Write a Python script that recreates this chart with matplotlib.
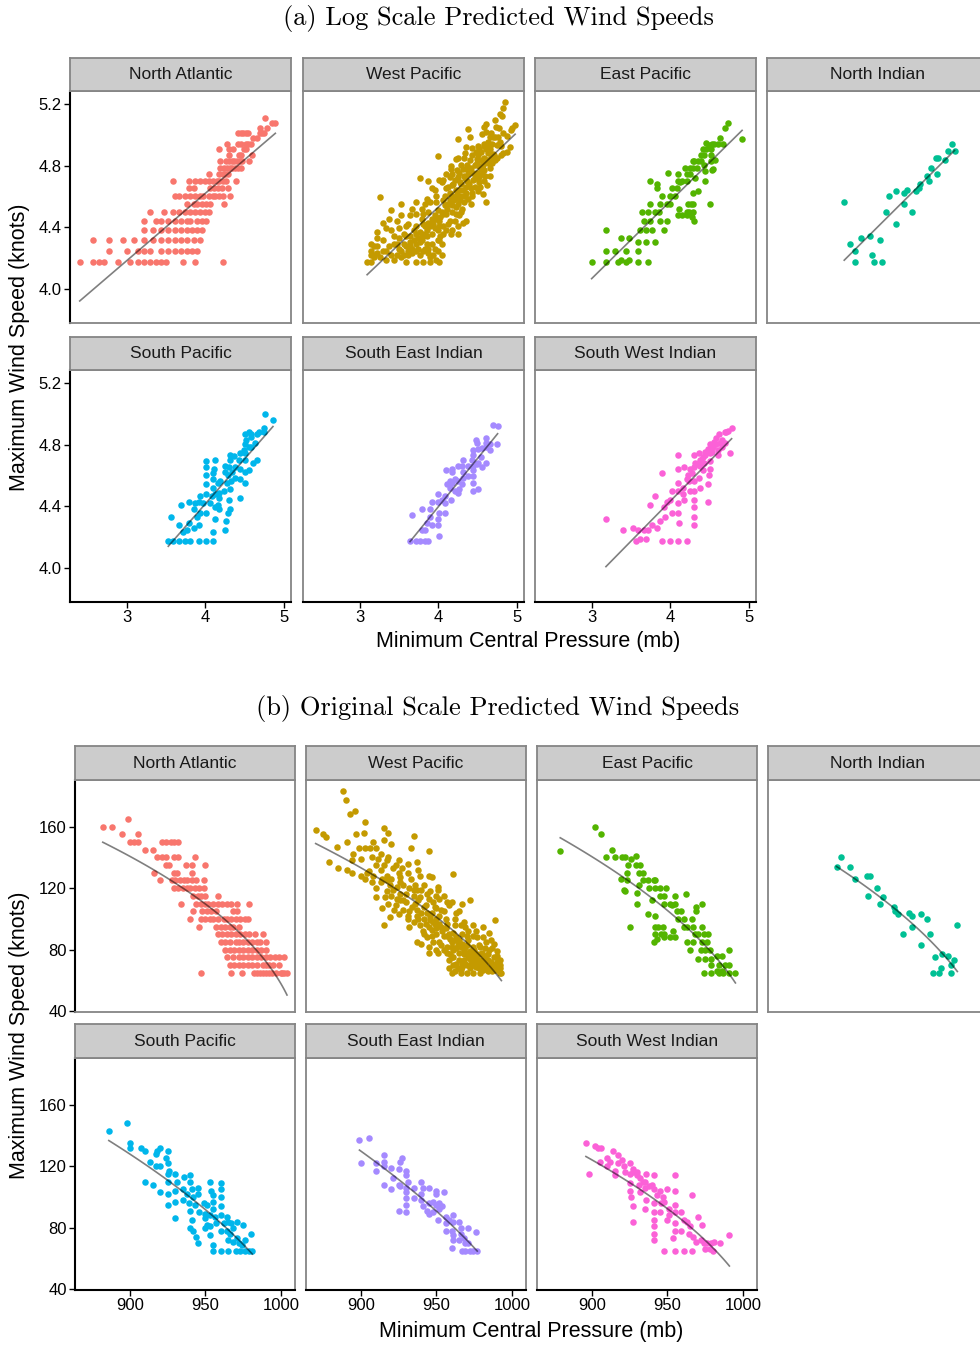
import numpy as np
import matplotlib
matplotlib.use("Agg")
import matplotlib.pyplot as plt

# reference pressure used for the log pressure deficit
REF = 1015

basins = ["North Atlantic", "West Pacific", "East Pacific", "North Indian",
          "South Pacific", "South East Indian", "South West Indian"]
colours = ["#F8766D", "#C49A00", "#53B400", "#00C094", "#00B6EB", "#A58AFF", "#FB61D7"]

# North Atlantic: winds are reported in 5 kt steps, pressures listed per wind level
na_levels = [165, 160, 155, 150, 145, 140, 135, 130, 125, 120, 115, 110, 105,
             100, 95, 90, 85, 80, 75, 70, 65]
na_pres_rows = [
    [899],
    [882, 888],
    [895, 905],
    [900, 903, 905, 921, 924, 927, 929, 932],
    [910, 915],
    [918, 921, 924, 929, 932, 943],
    [924, 926, 937, 941, 950],
    [916, 929, 931, 941],
    [920, 928, 930, 933, 936, 938, 941, 944, 949],
    [929, 932, 935, 938, 940, 943, 946, 949],
    [942, 945, 947, 950, 958],
    [934, 944, 947, 950, 952, 955, 958, 961, 964, 967, 971, 979],
    [942, 948, 951, 954, 957, 968, 971],
    [940, 947, 950, 953, 955, 958, 962, 964, 967, 970, 973, 976, 978],
    [946, 957, 960, 963, 966, 968, 972],
    [958, 961, 964, 967, 970, 973, 976, 979, 983, 988],
    [960, 963, 966, 970, 972, 975, 978, 981, 984, 986, 990],
    [963, 966, 969, 972, 975, 978, 981, 984, 987, 990],
    [964, 968, 972, 975, 978, 981, 984, 987, 990, 993, 996, 999, 1002],
    [966, 969, 972, 975, 978, 981, 984, 988, 990, 992, 995, 999],
    [947, 967, 974, 982, 984, 986, 988, 990, 992, 994, 997, 1000, 1001, 1002, 1004],
]
na_obs = [(p, w) for w, row in zip(na_levels, na_pres_rows) for p in row]

# (pressure mb, wind kt)
wp_obs = [(888, 183), (890, 177), (893, 168), (896, 170), (903, 163), (870, 158), (875, 155),
          (877, 153), (897, 155), (902, 156), (915, 159), (918, 156), (935, 154), (891, 150),
          (915, 151), (920, 149), (884, 147), (945, 144), (933, 146), (879, 137), (885, 133),
          (891, 132), (894, 130), (961, 129), (915, 96), (919, 101), (932, 95), (937, 85),
          (945, 78), (960, 65), (972, 112), (967, 110), (989, 99), (985, 91), (981, 95),
          (992, 73), (992, 65), (990, 79), (974, 96), (968, 98), (965, 105), (960, 111),
          (955, 115), (951, 121), (951, 119), (947, 127), (945, 128), (939, 128), (938, 132),
          (937, 137), (931, 136), (925, 138), (923, 135), (927, 133), (931, 130), (933, 126),
          (926, 127), (920, 126), (915, 135), (913, 132), (917, 138), (911, 139), (907, 140),
          (903, 146), (899, 146), (906, 146), (910, 146), (895, 142), (894, 138), (900, 139),
          (905, 131), (910, 135), (900, 128), (903, 126), (907, 124), (910, 120), (910, 114),
          (916, 114), (914, 107), (918, 110), (914, 126), (917, 125), (921, 119), (924, 121),
          (924, 113), (925, 103), (928, 106), (930, 116), (935, 119), (936, 110), (931, 100),
          (937, 102), (939, 114), (943, 109), (942, 100), (947, 104), (948, 111), (950, 107),
          (952, 102), (955, 105), (956, 100), (939, 96), (945, 95), (949, 97), (953, 95),
          (957, 89), (950, 90), (947, 89), (942, 90), (940, 84), (945, 82), (952, 85),
          (957, 82), (961, 80), (965, 84), (969, 82), (971, 86), (974, 82), (967, 90),
          (971, 92), (977, 88), (979, 82), (980, 78), (984, 77), (987, 81), (988, 75),
          (990, 72), (987, 70), (983, 68), (979, 65), (974, 65), (970, 65), (966, 67),
          (963, 71), (968, 73), (972, 74), (977, 72), (981, 70), (961, 75), (965, 78),
          (959, 77), (955, 80), (963, 81), (951, 78), (970, 77), (974, 78), (977, 77),
          (958, 73), (961, 70), (967, 69), (972, 68), (976, 69), (980, 73), (984, 73),
          (982, 76), (904, 130), (908, 128), (913, 124), (919, 122), (917, 118), (926, 116),
          (923, 109), (932, 105), (937, 106), (940, 104), (935, 98), (946, 99), (950, 94),
          (955, 89), (960, 85), (965, 73), (969, 71), (973, 71), (974, 70), (978, 68),
          (960, 82), (948, 85), (944, 88), (941, 92), (931, 102), (928, 112), (920, 115),
          (917, 128), (926, 124), (937, 119), (944, 116), (942, 122), (952, 113), (958, 109),
          (962, 100), (966, 96), (970, 89), (974, 89), (971, 78), (968, 77), (979, 77),
          (982, 81), (966, 65), (991, 67),
          (935, 115), (938, 112), (942, 108), (944, 104), (946, 101), (948, 98), (950, 100),
          (952, 97), (954, 92), (956, 94), (958, 90), (959, 87), (961, 91), (962, 86),
          (963, 88), (964, 83), (965, 86), (966, 82), (967, 84), (968, 80), (969, 78),
          (970, 83), (971, 75), (972, 79), (973, 76), (974, 73), (975, 75), (976, 71),
          (977, 74), (978, 70), (979, 72), (980, 68), (981, 67), (982, 71), (983, 73),
          (984, 66), (985, 68), (986, 72), (987, 66), (988, 70), (989, 67), (990, 69),
          (991, 68), (975, 80), (978, 83), (983, 85), (986, 86), (962, 96), (957, 97),
          (953, 106), (949, 108), (945, 113), (940, 119), (936, 122), (932, 120), (928, 122),
          (925, 130), (921, 133), (918, 140), (913, 142), (908, 150), (946, 118), (950, 115),
          (957, 111), (963, 104), (969, 95), (976, 92), (981, 88), (960, 75), (957, 78),
          (953, 83), (950, 80), (947, 93), (943, 97), (938, 100), (934, 108), (930, 111),
          (926, 112), (922, 106), (970, 70), (967, 71), (964, 68), (962, 66), (958, 68),
          (985, 80), (988, 84), (992, 70), (991, 72), (990, 76), (993, 65), (992, 68)]

ep_obs = [(879, 144), (902, 160), (906, 155), (913, 145), (909, 140), (915, 140), (920, 140),
          (922, 140), (926, 139), (929, 141), (924, 135), (929, 135), (932, 135), (923, 130),
          (931, 130), (934, 130), (919, 126), (923, 125), (934, 125), (937, 125), (941, 125),
          (942, 125), (921, 119), (922, 118), (930, 117), (931, 122), (938, 120), (942, 120),
          (945, 120), (949, 120), (940, 112), (945, 115), (948, 115), (955, 115), (962, 116),
          (930, 110), (948, 110), (952, 110), (955, 110), (953, 109), (956, 105), (959, 105),
          (957, 100), (961, 100), (966, 100), (969, 108), (969, 105), (973, 110), (937, 103),
          (942, 102), (925, 95), (942, 95), (944, 95), (947, 95), (954, 92), (961, 95),
          (963, 95), (967, 95), (973, 95), (942, 90), (946, 90), (948, 90), (943, 87),
          (948, 88), (955, 88), (952, 88), (941, 85), (968, 90), (970, 90), (974, 90),
          (977, 90), (963, 85), (967, 85), (973, 85), (976, 85), (965, 80), (972, 80),
          (975, 80), (978, 80), (970, 74), (975, 74), (979, 74), (983, 76), (986, 76),
          (991, 80), (979, 70), (984, 70), (988, 70), (991, 70), (974, 65), (979, 65),
          (984, 65), (987, 65), (991, 65), (995, 65), (983, 66), (986, 66)]

ni_obs = [(912, 140), (909, 134), (918, 134), (921, 126), (929, 128), (931, 128), (936, 120),
          (930, 115), (940, 114), (938, 110), (947, 108), (948, 105), (950, 103), (957, 104),
          (959, 102), (965, 103), (969, 100), (959, 95), (953, 90), (971, 90), (965, 83),
          (989, 96), (974, 75), (979, 77), (983, 76), (987, 73), (985, 70), (973, 65),
          (977, 65), (978, 68), (985, 65)]

sp_obs = [(886, 143), (898, 148), (900, 135), (900, 132), (907, 132), (910, 130), (917, 128),
          (918, 130), (920, 132), (925, 130), (913, 123), (917, 120), (920, 120), (924, 125),
          (925, 122), (926, 117), (910, 110), (915, 108), (920, 103), (925, 115), (925, 110),
          (930, 115), (931, 110), (930, 104), (925, 102), (925, 95), (930, 97), (930, 86),
          (936, 113), (940, 114), (935, 105), (938, 102), (935, 98), (940, 110), (941, 105),
          (942, 100), (939, 96), (943, 95), (945, 106), (945, 102), (940, 91), (941, 85),
          (940, 80), (942, 78), (944, 74), (945, 70), (949, 96), (951, 95), (946, 90),
          (950, 89), (953, 88), (953, 110), (954, 104), (955, 101), (955, 97), (955, 92),
          (956, 87), (950, 86), (951, 82), (950, 80), (953, 81), (953, 75), (960, 109),
          (960, 105), (960, 100), (960, 94), (960, 88), (957, 83), (962, 83), (965, 84),
          (960, 78), (955, 69), (955, 65), (960, 65), (964, 78), (966, 76), (968, 80),
          (971, 84), (975, 82), (965, 72), (968, 71), (972, 70), (974, 69), (965, 65),
          (970, 65), (973, 65), (976, 65), (979, 65), (981, 65), (971, 73), (976, 72),
          (980, 76), (964, 87), (967, 83)]

sei_obs = [(899, 137), (905, 138), (900, 122), (910, 122), (910, 117), (915, 127), (915, 123),
           (915, 120), (920, 119), (925, 118), (926, 123), (927, 125), (921, 112), (915, 108),
           (920, 105), (925, 108), (926, 107), (930, 117), (930, 114), (931, 110), (930, 106),
           (930, 103), (930, 99), (930, 95), (930, 90), (925, 91), (935, 106), (935, 99),
           (940, 110), (941, 106), (940, 102), (945, 106), (941, 94), (944, 91), (945, 89),
           (940, 98), (945, 96), (948, 97), (950, 95), (952, 96), (954, 94), (950, 104),
           (950, 102), (955, 103), (948, 90), (951, 85), (952, 92), (956, 87), (956, 83),
           (956, 78), (958, 85), (961, 88), (961, 84), (960, 78), (961, 75), (961, 72),
           (960, 67), (965, 84), (966, 80), (966, 76), (971, 80), (976, 77), (965, 72),
           (968, 73), (969, 70), (971, 70), (967, 65), (969, 65), (972, 65), (974, 65),
           (977, 65)]

swi_obs = [(896, 135), (898, 115), (902, 133), (904, 132), (906, 132), (905, 123), (910, 125),
           (912, 123), (914, 130), (917, 127), (910, 120), (915, 117), (915, 114), (917, 122),
           (920, 124), (921, 120), (925, 122), (922, 116), (925, 115), (927, 118), (930, 116),
           (932, 112), (925, 109), (925, 104), (926, 100), (927, 94), (927, 84), (931, 108),
           (932, 103), (934, 110), (936, 115), (935, 106), (941, 114), (936, 98), (935, 92),
           (940, 108), (941, 105), (943, 101), (941, 96), (941, 90), (941, 85), (941, 81),
           (941, 76), (941, 72), (945, 104), (947, 100), (950, 105), (946, 96), (948, 97),
           (945, 90), (951, 92), (951, 88), (950, 85), (955, 114), (955, 104), (955, 95),
           (955, 90), (955, 83), (955, 78), (954, 73), (959, 90), (961, 85), (959, 78),
           (963, 84), (965, 81), (964, 76), (966, 101), (970, 87), (973, 82), (967, 74),
           (969, 71), (972, 72), (974, 70), (976, 70), (979, 70), (981, 71), (975, 66),
           (978, 66), (980, 65), (985, 70), (991, 75), (948, 65), (955, 65), (961, 65),
           (966, 65), (927, 116), (930, 114), (935, 110), (938, 107)]

basin_obs = [na_obs, wp_obs, ep_obs, ni_obs, sp_obs, sei_obs, swi_obs]

W, H = 980, 1346
fig = plt.figure(figsize=(W / 100, H / 100), dpi=100)
SANS = "Liberation Sans"
BORDER = "#858585"


def add_box(left, top, width, height):
    return fig.add_axes([left / W, 1 - (top + height) / H, width / W, height / H])


def draw_facets(col_left, width, rows, strip_h, log_scale, xlim, ylim, xticks, yticks, ytickfmt):
    for k, (name, colour, obs) in enumerate(zip(basins, colours, basin_obs)):
        r, c = divmod(k, 4)
        strip_top, panel_top, panel_h = rows[r]
        ax = add_box(col_left[c], panel_top, width, panel_h)
        pres = np.array([o[0] for o in obs], float)
        wind = np.array([o[1] for o in obs], float)
        lx = np.log(REF - pres)
        ly = np.log(wind)
        slope, icpt = np.polyfit(lx, ly, 1)
        if log_scale:
            ax.scatter(lx, ly, s=22, color=colour, linewidths=0, zorder=2)
            xs = np.linspace(lx.min(), lx.max(), 60)
            ax.plot(xs, icpt + slope * xs, color="black", alpha=0.5, lw=1.2, zorder=3)
        else:
            ax.scatter(pres, wind, s=22, color=colour, linewidths=0, zorder=2)
            ps = np.linspace(pres.min(), pres.max(), 120)
            ax.plot(ps, np.exp(icpt + slope * np.log(REF - ps)), color="black",
                    alpha=0.5, lw=1.2, zorder=3)
        ax.set_xlim(*xlim)
        ax.set_ylim(*ylim)
        ax.set_xticks(xticks)
        ax.set_yticks(yticks)
        for sp in ax.spines.values():
            sp.set_color(BORDER)
            sp.set_linewidth(1.3)
        ax.tick_params(direction="out", length=4, width=1, colors="black",
                       labelsize=12, pad=2)
        if c == 0:
            ax.spines["left"].set_color("black")
            ax.spines["left"].set_linewidth(1.5)
            ax.set_yticklabels([ytickfmt(v) for v in yticks], fontfamily=SANS)
        else:
            ax.tick_params(axis="y", left=False, labelleft=False)
        if r == 1:
            ax.spines["bottom"].set_color("black")
            ax.spines["bottom"].set_linewidth(1.5)
            ax.set_xticklabels([str(v) for v in xticks], fontfamily=SANS)
        else:
            ax.tick_params(axis="x", bottom=False, labelbottom=False)

        st = add_box(col_left[c], strip_top, width, strip_h)
        st.set_facecolor("#CCCCCC")
        st.set_xticks([])
        st.set_yticks([])
        for sp in st.spines.values():
            sp.set_color(BORDER)
            sp.set_linewidth(1.3)
        st.text(0.5, 0.5, name, ha="center", va="center", fontsize=12.5,
                fontfamily=SANS, color="#1a1a1a", transform=st.transAxes)


# (a) log scale
draw_facets([70, 303, 535, 767], 221, [(58, 91, 232), (337, 370, 232)], 33, True,
            (2.274, 5.09), (3.78, 5.284), [3, 4, 5], [4.0, 4.4, 4.8, 5.2],
            lambda v: "%.1f" % v)
# (b) original scale
draw_facets([75, 306, 537, 768], 220, [(746, 780, 232), (1024, 1058, 232)], 34, False,
            (863.6, 1009.3), (39.5, 190.3), [900, 950, 1000], [40, 80, 120, 160],
            lambda v: "%d" % v)

fig.text(498 / W, 1 - 19 / H, "(a) Log Scale Predicted Wind Speeds", ha="center",
         va="center", fontsize=19, fontfamily="cmr10")
fig.text(498 / W, 1 - 708 / H, "(b) Original Scale Predicted Wind Speeds", ha="center",
         va="center", fontsize=19, fontfamily="cmr10")
for yc in (347, 1035):
    fig.text(20 / W, 1 - yc / H, "Maximum Wind Speed (knots)", rotation=90, ha="center",
             va="center", fontsize=15.5, fontfamily=SANS)
for yc, xc in ((641, 528), (1331, 531)):
    fig.text(xc / W, 1 - yc / H, "Minimum Central Pressure (mb)", ha="center",
             va="center", fontsize=15.5, fontfamily=SANS)

fig.savefig("out.png", dpi=100)
